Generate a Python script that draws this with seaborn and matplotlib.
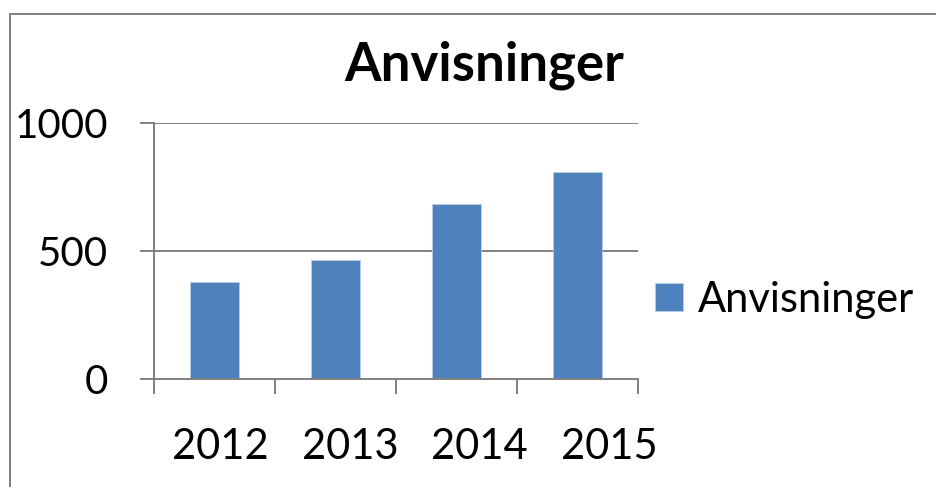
import matplotlib
matplotlib.use('Agg')
import matplotlib.pyplot as plt
import seaborn as sns
import pandas as pd
from matplotlib.patches import Rectangle

# data
years = ['2012', '2013', '2014', '2015']
anvisninger = [378, 465, 682, 809]
series_name = 'Anvisninger'
y_ticks = [0, 500, 1000]

df = pd.DataFrame({'year': years, 'value': anvisninger})

sns.set_theme(style='white')
plt.rcParams['font.family'] = ['Lato', 'DejaVu Sans']
plt.rcParams['text.color'] = 'black'

grey = '#808080'
blue = '#4F81BD'

fig = plt.figure(figsize=(9.37, 4.87), dpi=100)
ax = fig.add_axes([154 / 937, 1 - 379 / 487, (638 - 154) / 937, (379 - 123) / 487])

sns.barplot(data=df, x='year', y='value', color=blue, saturation=1, width=0.4,
            label=series_name, edgecolor='#B9CDE5', linewidth=0.6, ax=ax)

# axes styling (Excel look)
ax.set_ylim(0, 1000)
ax.set_xlim(-0.5, 3.5)
ax.set_yticks(y_ticks)
ax.yaxis.grid(True, color=grey, lw=1.4)
ax.set_axisbelow(True)
for side in ['top', 'right']:
    ax.spines[side].set_visible(False)
for side in ['left', 'bottom']:
    ax.spines[side].set_color(grey)
    ax.spines[side].set_linewidth(1.4)
ax.set_xlabel('')
ax.set_ylabel('')

ax.tick_params(axis='y', left=True, length=10, width=1.4, color=grey,
               pad=23, labelsize=29, direction='out', labelcolor='black')

# category labels sit a bit spread out in the original
ax.set_xticks([0.05, 1.12, 2.19, 3.26], labels=years)
ax.set_xticks([-0.5, 0.5, 1.5, 2.5, 3.5], minor=True)
ax.tick_params(axis='x', which='major', length=0, pad=35, labelsize=30, labelcolor='black')
ax.tick_params(axis='x', which='minor', bottom=True, length=11, width=1.4,
               color=grey, direction='out')

fig.text(484 / 937, 1 - 80 / 487, 'Anvisninger', ha='center', va='baseline',
         fontsize=38, fontweight='bold', color='black')

leg = ax.legend(loc='center left', bbox_to_anchor=(655 / 937, 1 - 300 / 487),
                bbox_transform=fig.transFigure, frameon=False, fontsize=30,
                handlelength=0.67, handleheight=0.65, handletextpad=0.37,
                borderpad=0, borderaxespad=0)
for t in leg.get_texts():
    t.set_color('black')

# outer chart frame (right/bottom run off the picture)
fig.add_artist(Rectangle((10 / 937, -0.1), 1.2, 1 - 13.5 / 487 + 0.1,
                         transform=fig.transFigure, fill=False,
                         edgecolor=grey, lw=1.4))

fig.savefig('out.png', dpi=100)
